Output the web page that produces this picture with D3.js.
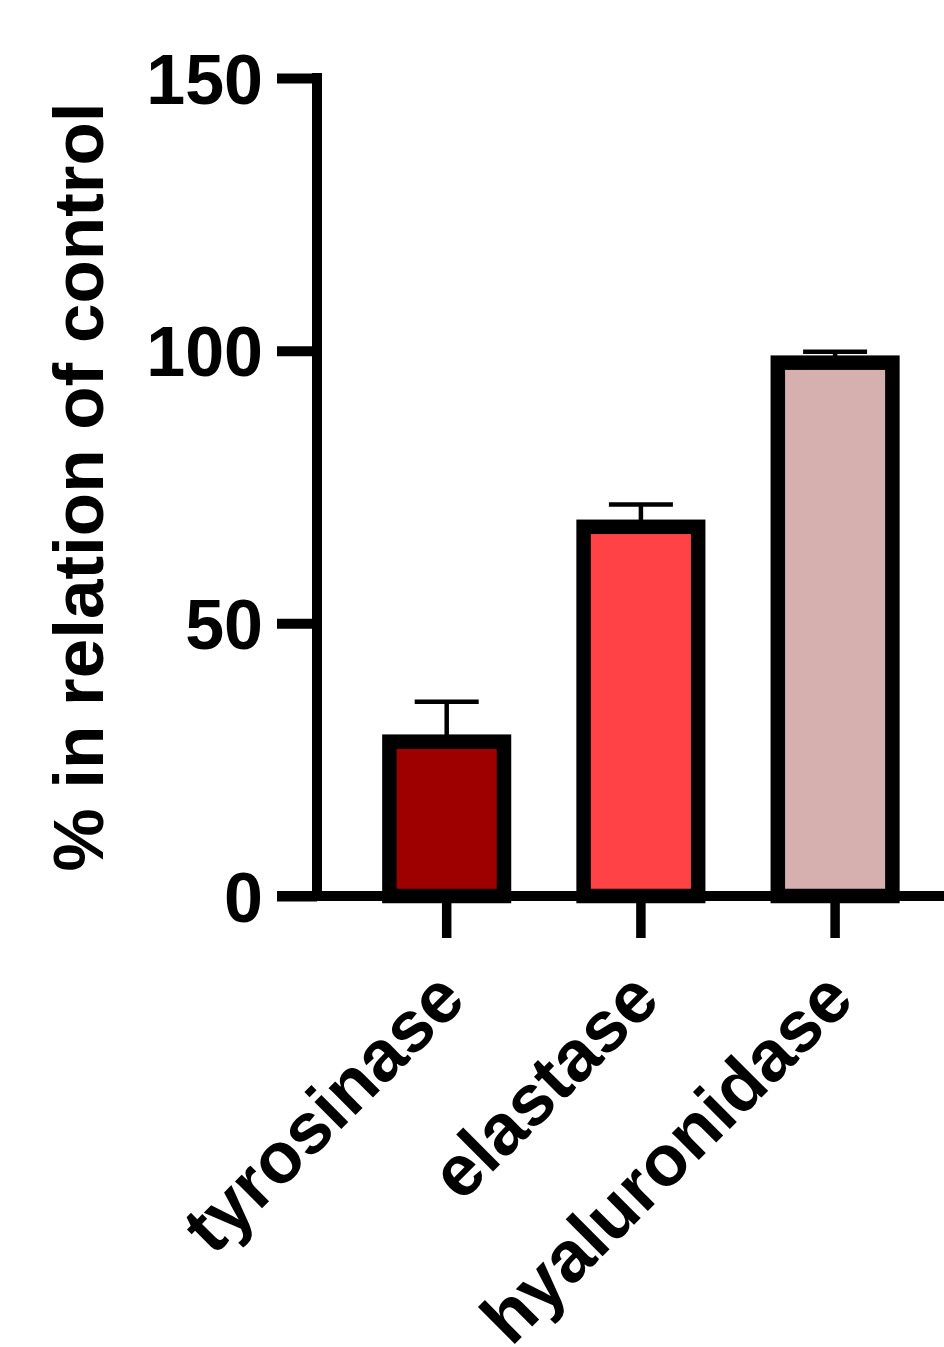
<!DOCTYPE html>
<html>
<head>
<meta charset="utf-8">
<script src="https://cdn.jsdelivr.net/npm/d3@7"></script>
<style>
  html, body { margin: 0; padding: 0; background: #fff; }
  svg { display: block; }
  text { font-family: "Liberation Sans", Arial, sans-serif; font-weight: bold; fill: #000; }
</style>
</head>
<body>
<svg id="chart" width="944" height="1347"></svg>
<script>
const categories = ["tyrosinase", "elastase", "hyaluronidase"];
const means = [28.3, 67.7, 97.8];
const upperErrors = [35.6, 71.8, 99.8];
const barColors = ["#9E0000", "#FF4245", "#D6AFAF"];
const yTicks = [0, 50, 100, 150];
const yTitle = "% in relation of control";

const svg = d3.select("#chart");

const y = d3.scaleLinear().domain([0, 150]).range([896, 78]);
const x = d3.scaleBand().domain(categories).range([349.6, 932.2])
  .paddingInner(0.41).paddingOuter(0.205);

const axisX = 317;
const lw = 10;

// bars
const g = svg.append("g");
g.selectAll("rect.bar").data(categories).join("rect")
  .attr("class", "bar")
  .attr("x", d => x(d))
  .attr("width", x.bandwidth())
  .attr("y", (d, i) => y(means[i]))
  .attr("height", (d, i) => y(0) - y(means[i]))
  .attr("fill", (d, i) => barColors[i])
  .attr("stroke", "#000")
  .attr("stroke-width", 14.5);

// error bars (upper only)
const capW = 64;
g.selectAll("line.err").data(categories).join("line")
  .attr("class", "err")
  .attr("x1", d => x(d) + x.bandwidth() / 2)
  .attr("x2", d => x(d) + x.bandwidth() / 2)
  .attr("y1", (d, i) => y(means[i]))
  .attr("y2", (d, i) => y(upperErrors[i]))
  .attr("stroke", "#000").attr("stroke-width", 4.5);
g.selectAll("line.cap").data(categories).join("line")
  .attr("class", "cap")
  .attr("x1", d => x(d) + x.bandwidth() / 2 - capW / 2)
  .attr("x2", d => x(d) + x.bandwidth() / 2 + capW / 2)
  .attr("y1", (d, i) => y(upperErrors[i]))
  .attr("y2", (d, i) => y(upperErrors[i]))
  .attr("stroke", "#000").attr("stroke-width", 4.5);

// y axis
const yAxis = d3.axisLeft(y).tickValues(yTicks).tickSize(40).tickPadding(14).tickFormat(d3.format("d"));
const yg = svg.append("g").attr("transform", `translate(${axisX},0)`).call(yAxis);
yg.select(".domain").remove();
yg.selectAll(".tick line").attr("stroke", "#000").attr("stroke-width", lw);
yg.selectAll(".tick text").attr("font-size", 70).attr("font-family", "Liberation Sans, Arial, sans-serif")
  .attr("font-weight", "bold").attr("fill", "#000").attr("dy", "0.36em");
svg.append("line")
  .attr("x1", axisX).attr("x2", axisX)
  .attr("y1", y(150) - lw / 2).attr("y2", y(0) + lw / 2)
  .attr("stroke", "#000").attr("stroke-width", lw);

// x axis
const xAxis = d3.axisBottom(x).tickSize(42).tickFormat("");
const xg = svg.append("g").attr("transform", `translate(0,${y(0)})`).call(xAxis);
xg.select(".domain").remove();
xg.selectAll(".tick line").attr("stroke", "#000").attr("stroke-width", 9.5);
svg.append("line")
  .attr("x1", axisX - 40).attr("x2", 960)
  .attr("y1", y(0)).attr("y2", y(0))
  .attr("stroke", "#000").attr("stroke-width", lw);

// x labels rotated
svg.selectAll("text.xlab").data(categories).join("text")
  .attr("class", "xlab")
  .attr("font-size", 72)
  .attr("text-anchor", "end")
  .attr("dy", "0.36em")
  .attr("transform", d => `translate(${x(d) + x.bandwidth() / 2 + 3},${984}) rotate(-45)`)
  .text(d => d);

// y title
svg.append("text")
  .attr("font-size", 71)
  .attr("text-anchor", "middle")
  .attr("transform", `translate(103,${(y(0) + y(150)) / 2}) rotate(-90)`)
  .text(yTitle);
</script>
</body>
</html>
